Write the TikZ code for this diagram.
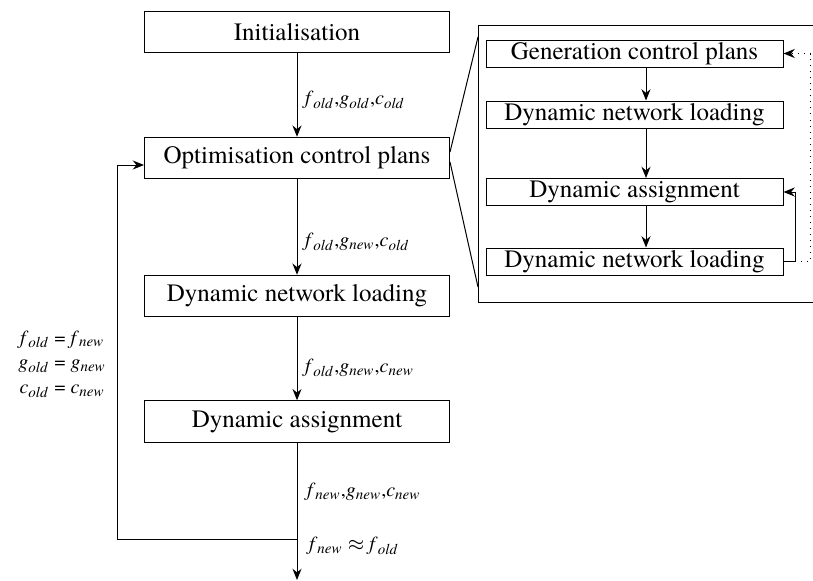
\documentclass[tikz,border=0pt]{standalone}
\usepackage{fontspec}
\setmainfont{TeX Gyre Termes}
\usetikzlibrary{arrows.meta}
\newcommand{\vr}[2]{\textit{#1}\textsubscript{\textit{#2}}}
\tikzset{
	block/.style={draw, minimum width=122pt, minimum height=16.6pt, inner sep=1pt},
	subblock/.style={draw, minimum width=118.8pt, minimum height=10.8pt, inner sep=0.5pt},
	lbl/.style={anchor=west, inner sep=1pt, font=\footnotesize},
	>={Stealth[length=4.5pt,width=3.6pt]}
}

\begin{document}
\begin{tikzpicture}[x=0.4pt,y=-0.4pt]
	\useasboundingbox (0,0) rectangle (813,580);
	% main loop
	\node[block] (init) at (297,32) {Initialisation};
	\node[block] (opt) at (297,158) {Optimisation control plans};
	\node[block] (load) at (297,296) {Dynamic network loading};
	\node[block] (assign) at (297,421.5) {Dynamic assignment};
	\coordinate (join) at (297,539);
	\coordinate (out) at (297,580);
	\coordinate (back) at (117,165);
	\draw[->] (init) -- (opt);
	\draw[->] (opt) -- (load);
	\draw[->] (load) -- (assign);
	\draw[->] (assign) -- (out);
	\draw[->] (join) -- (join -| back) -- (back) -- (back -| opt.west);
	\node[lbl] (l1) at (302,100) {\vr{f}{old},\vr{g}{old},\vr{c}{old}};
	\node[lbl] (l2) at (302,242) {\vr{f}{old},\vr{g}{new},\vr{c}{old}};
	\node[lbl] (l3) at (302,368) {\vr{f}{old},\vr{g}{new},\vr{c}{new}};
	\node[lbl] (l4) at (304,492) {\vr{f}{new},\vr{g}{new},\vr{c}{new}};
	\node[lbl] (l5) at (306,546) {\vr{f}{new} $\approx$ \vr{f}{old}};
	\node[anchor=east, inner sep=1pt, font=\footnotesize] (reset) at (109,364)
		{\def\arraystretch{1.05}\begin{tabular}{@{}r@{ = }l@{}}\vr{f}{old}&\vr{f}{new}\\ \vr{g}{old}&\vr{g}{new}\\ \vr{c}{old}&\vr{c}{new}\end{tabular}};
	% zoom on the optimisation step
	\coordinate (zoomtop) at (478,37);
	\coordinate (zoombot) at (478,287);
	\draw (478,25) rectangle (830,302);
	\draw ([yshift=2.4pt]opt.east) -- (zoomtop);
	\draw ([yshift=-1.6pt]opt.east) -- (zoombot);
	\node[subblock] (gen) at (634.5,53.5) {Generation control plans};
	\node[subblock] (load2) at (634.5,114.5) {Dynamic network loading};
	\node[subblock] (assign2) at (634.5,192) {Dynamic assignment};
	\node[subblock] (load3) at (634.5,261.5) {Dynamic network loading};
	\coordinate (spine) at (646,0);
	\coordinate (loopin) at (795,0);
	\coordinate (loopout) at (810,0);
	\draw[->] (gen.south -| spine) -- (load2.north -| spine);
	\draw[->] (load2.south -| spine) -- (assign2.north -| spine);
	\draw[->] (assign2.south -| spine) -- (load3.north -| spine);
	\draw[->] (load3.east) -- (load3.east -| loopin) -- (assign2.east -| loopin) -- (assign2.east);
	\draw[->,dotted] (load3.east -| loopin) -- (load3.east -| loopout) -- (gen.east -| loopout) -- (gen.east);
\end{tikzpicture}
\end{document}
